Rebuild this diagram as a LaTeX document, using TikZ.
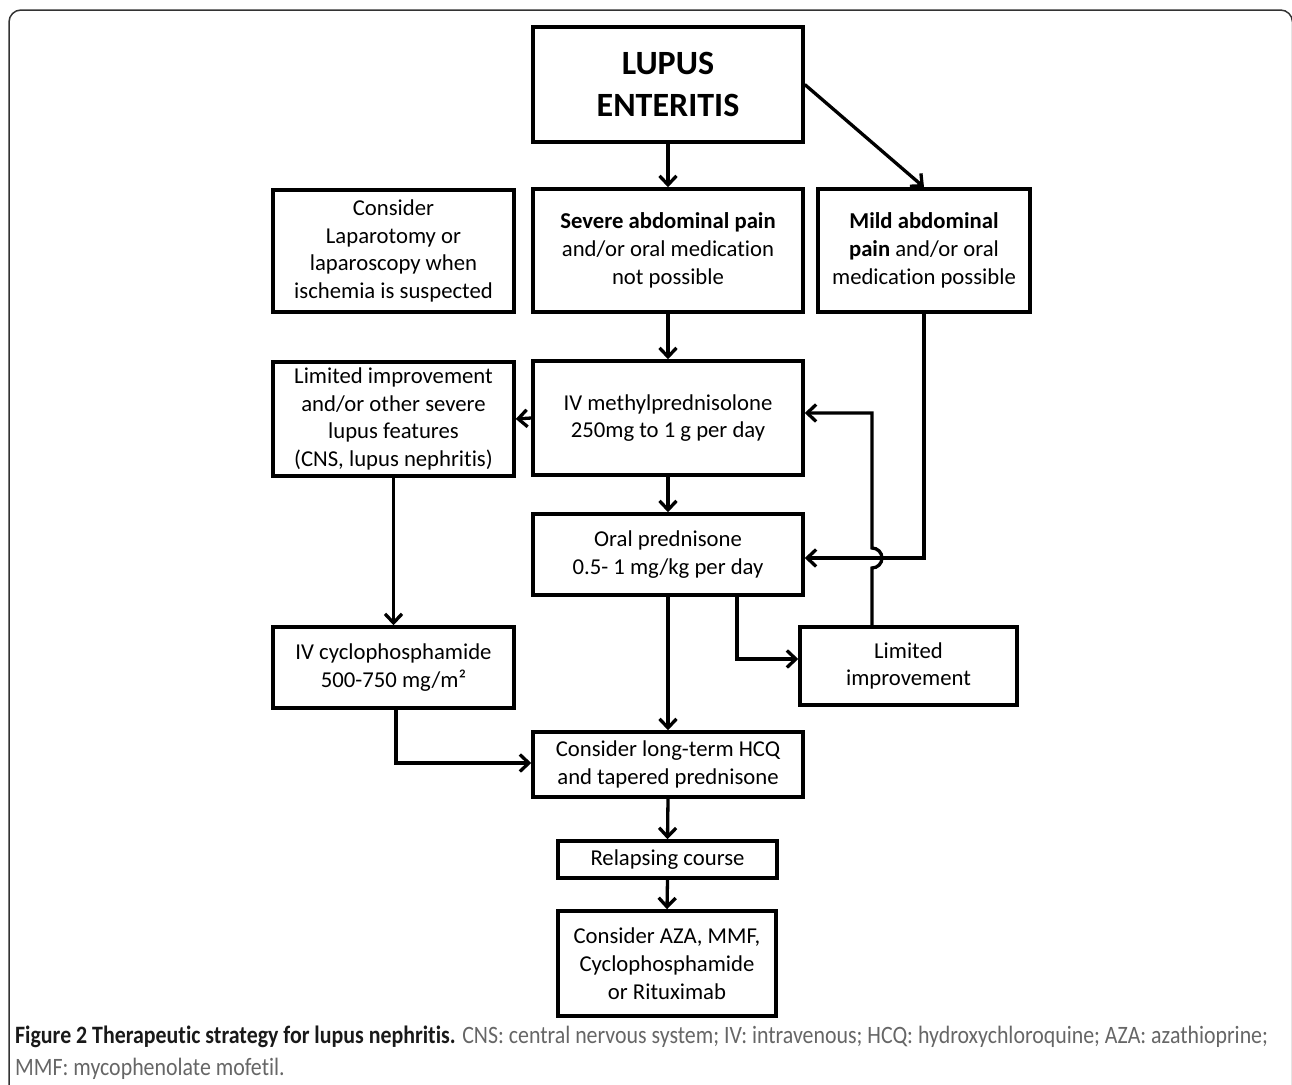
\documentclass[tikz,border=0pt]{standalone}
\usepackage{fontspec}
\setmainfont{Carlito}[Ligatures=NoCommon]
\newfontfamily\capfont[FakeStretch=0.875,Ligatures=NoCommon]{Carlito}
\usetikzlibrary{arrows.meta}
\begin{document}
\begin{tikzpicture}[x=1pt,y=-1pt,
  box/.style={draw, line width=3.5pt, align=center, inner sep=0pt,
    font=\fontsize{22.7}{27.7}\selectfont},
  conn/.style={line width=3.3pt, -{Straight Barb[length=9pt,width=17pt]}},
  capstyle/.style={anchor=base west, inner sep=0pt, text=black!60,
    font=\capfont\fontsize{25}{32}\selectfont}]
\useasboundingbox (0,0) rectangle (1292,1084);
\draw[line width=1.5pt, black!80, rounded corners=12pt] (9,1095) -- (9,10) -- (1292.5,10) -- (1292.5,1095);

\node[box, minimum width=270pt, minimum height=115pt, font=\bfseries\fontsize{34}{42}\selectfont] (lupus) at (668,84.5) {LUPUS\\ENTERITIS};
\node[box, minimum width=270pt, minimum height=123pt] (severe) at (668,250.5) {\textbf{Severe abdominal pain}\\and/or oral medication\\not possible};
\node[box, minimum width=212pt, minimum height=123pt] (mild) at (924,250.5) {\textbf{Mild abdominal}\\\textbf{pain} and/or oral\\medication possible};
\node[box, minimum width=241pt, minimum height=122pt] (lap) at (393.5,251) {Consider\\Laparotomy or\\laparoscopy when\\ischemia is suspected};
\node[box, minimum width=270pt, minimum height=114pt] (methyl) at (668,418) {IV methylprednisolone\\250mg to 1 g per day};
\node[box, minimum width=241pt, minimum height=114pt] (limL) at (393.5,419) {Limited improvement\\and/or other severe\\lupus features\\(CNS, lupus nephritis)};
\node[box, minimum width=270pt, minimum height=81pt] (oral) at (668,554.5) {Oral prednisone\\0.5- 1 mg/kg per day};
\node[box, minimum width=241pt, minimum height=81pt] (cyclo) at (393.5,667.5) {IV cyclophosphamide\\500-750 mg/m²};
\node[box, minimum width=217pt, minimum height=78pt] (limR) at (908.5,666) {Limited\\improvement};
\node[box, minimum width=270pt, minimum height=65pt] (hcq) at (668,764.5) {Consider long-term HCQ\\and tapered prednisone};
\node[box, minimum width=219pt, minimum height=37pt] (relapse) at (667.5,859.5) {Relapsing course};
\node[box, minimum width=218pt, minimum height=105pt] (aza) at (667,963.5) {Consider AZA, MMF,\\Cyclophosphamide\\or Rituximab};

\draw[conn] (lupus.south) -- (severe.north);
\draw[conn] (lupus.east) -- (mild.north);
\draw[conn] (severe.south) -- (methyl.north);
\draw[conn] (methyl.west) -- (limL.east);
\draw[conn] (methyl.south) -- (oral.north);
\draw[conn] (mild.south) |- ([yshift=-3.5pt]oral.east);
\draw[conn] ([xshift=-36.5pt]limR.north) -- (872,568) arc[start angle=-90,end angle=90,radius=10pt] -- (872,413) -- ([yshift=5pt]methyl.east);
\draw[conn] (oral.south) -- (hcq.north);
\draw[conn] ([xshift=69pt]oral.south) |- ([yshift=7pt]limR.west);
\draw[conn] (limL.south) -- (cyclo.north);
\draw[conn] ([xshift=2.5pt]cyclo.south) |- ([yshift=1.5pt]hcq.west);
\draw[conn] (hcq.south) -- (relapse.north);
\draw[conn] (relapse.south) -- (aza.north);

\node[capstyle] (cap1) at (15,1043) {\textbf{\color{black!90}Figure 2 Therapeutic strategy for lupus nephritis.} CNS: central nervous system; IV: intravenous; HCQ: hydroxychloroquine; AZA: azathioprine;};
\node[capstyle] (cap2) at (15,1075) {MMF: mycophenolate mofetil.};
\end{tikzpicture}
\end{document}
